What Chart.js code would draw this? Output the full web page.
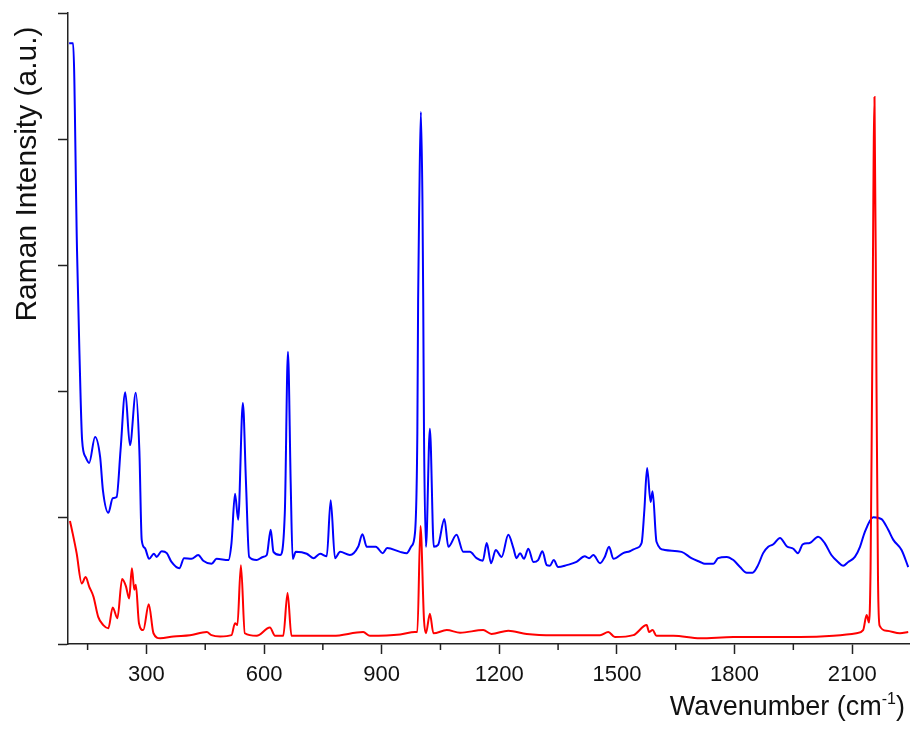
<!DOCTYPE html>
<html>
<head>
<meta charset="utf-8">
<script src="https://cdn.jsdelivr.net/npm/chart.js@4.4.0/dist/chart.umd.min.js"></script>
<style>
  html, body { margin: 0; padding: 0; background: #fff; }
</style>
</head>
<body>
<canvas id="ramanChart" width="910" height="729"></canvas>
<script>
/* global Chart */

// blue spectrum (upper trace)
const blueWavenumbers = [103, 113, 123, 129, 136, 145, 154, 169, 182, 189, 203, 214, 224, 234, 246, 258, 273, 282, 288, 296,
  307, 319, 326, 339, 352, 364, 384, 396, 415, 432, 445, 466, 479, 509, 517, 526, 534, 546, 554, 562,
  581, 597, 607, 617, 624, 641, 653, 661, 668, 673, 681, 709, 726, 743, 760, 770, 781, 794, 819, 840,
  851, 862, 885, 903, 914, 947, 964, 976, 985, 991, 993, 996, 1000, 1004, 1006, 1008, 1013, 1023, 1033, 1044,
  1060, 1070, 1091, 1108, 1125, 1142, 1158, 1168, 1179, 1191, 1206, 1223, 1236, 1244, 1253, 1263, 1274, 1287, 1299, 1310,
  1321, 1329, 1339, 1350, 1372, 1397, 1418, 1429, 1440, 1457, 1469, 1480, 1491, 1516, 1533, 1550, 1563, 1570, 1577, 1586,
  1591, 1601, 1622, 1665, 1690, 1712, 1724, 1746, 1758, 1780, 1797, 1814, 1831, 1846, 1860, 1873, 1886, 1899, 1916, 1933,
  1950, 1962, 1974, 1992, 2013, 2030, 2047, 2064, 2077, 2090, 2107, 2120, 2132, 2154, 2175, 2192, 2205, 2226, 2243];
const blueIntensity = [952, 952, 624, 466, 323, 296, 287, 328, 296, 244, 208, 231, 233, 307, 399, 315, 398, 307, 165, 152,
  135, 143, 138, 147, 144, 130, 120, 136, 135, 141, 132, 127, 135, 133, 160, 238, 197, 382, 255, 138,
  133, 138, 141, 181, 146, 141, 208, 463, 255, 135, 146, 143, 136, 143, 139, 228, 136, 146, 141, 154,
  174, 154, 154, 144, 152, 146, 144, 155, 176, 334, 545, 704, 843, 704, 545, 334, 154, 341, 154, 157,
  198, 154, 173, 146, 146, 136, 132, 160, 128, 149, 138, 173, 152, 136, 144, 135, 151, 130, 133, 147,
  125, 124, 133, 122, 125, 130, 139, 136, 141, 128, 138, 154, 135, 144, 147, 152, 160, 212, 279, 225,
  242, 162, 149, 146, 136, 130, 127, 127, 136, 138, 133, 122, 113, 113, 125, 144, 154, 158, 168, 155,
  151, 144, 158, 160, 170, 160, 141, 130, 124, 130, 138, 154, 177, 201, 198, 181, 165, 149, 122];

// red spectrum (lower trace)
const redWavenumbers = [105, 111, 122, 135, 145, 154, 165, 177, 190, 203, 214, 226, 238, 248, 256, 263, 269, 273, 281, 292,
  306, 318, 335, 369, 411, 454, 466, 488, 517, 526, 532, 541, 551, 581, 615, 628, 649, 660, 670, 709,
  751, 776, 853, 870, 947, 985, 991, 999, 1008, 1013, 1023, 1032, 1066, 1100, 1159, 1180, 1223, 1270, 1338, 1457,
  1478, 1495, 1542, 1576, 1582, 1591, 1601, 1644, 1712, 1797, 1882, 1967, 2052, 2111, 2128, 2137, 2143, 2147, 2151, 2157,
  2162, 2166, 2170, 2188, 2222, 2243];
const redIntensity = [195, 178, 144, 96, 106, 91, 75, 43, 30, 25, 58, 41, 103, 91, 72, 120, 86, 94, 33, 22,
  63, 17, 9, 12, 14, 19, 14, 12, 14, 33, 30, 125, 17, 13, 26, 13, 13, 81, 13, 13,
  13, 13, 19, 13, 15, 19, 19, 187, 38, 17, 48, 17, 22, 18, 22, 16, 21, 16, 14, 14,
  19, 11, 14, 30, 19, 22, 13, 13, 9, 11, 11, 11, 13, 17, 22, 46, 34, 120, 420, 867,
  420, 100, 29, 21, 17, 19];

// axis ticks
const majorTicks = [300, 600, 900, 1200, 1500, 1800, 2100];
const minorTicks = [150, 450, 750, 1050, 1350, 1650, 1950];
const yTicks = [0, 200, 400, 600, 800, 1000];

const axisColor = '#222';
const fontFamily = '"Liberation Sans", Arial, sans-serif';

function toPoints(xs, ys) {
  return xs.map((x, i) => ({ x, y: ys[i] }));
}

// minor ticks and the two axis titles
const axisExtras = {
  id: 'axisExtras',
  afterDraw(chart) {
    const { ctx, chartArea } = chart;
    const xScale = chart.scales.x;
    ctx.save();
    ctx.strokeStyle = axisColor;
    ctx.lineWidth = 1.5;
    minorTicks.forEach((v) => {
      const px = xScale.getPixelForValue(v);
      ctx.beginPath();
      ctx.moveTo(px, chartArea.bottom);
      ctx.lineTo(px, chartArea.bottom + 6);
      ctx.stroke();
    });

    ctx.fillStyle = '#111';
    ctx.textBaseline = 'alphabetic';

    // x title with superscript
    const main = 'Wavenumber (cm';
    const sup = '-1';
    const tail = ')';
    ctx.font = `27px ${fontFamily}`;
    const wMain = ctx.measureText(main).width;
    const wTail = ctx.measureText(tail).width;
    ctx.font = `16px ${fontFamily}`;
    const wSup = ctx.measureText(sup).width;
    const right = chartArea.right - 4;
    const base = chartArea.bottom + 71;
    let x0 = right - wMain - wSup - wTail;
    ctx.textAlign = 'left';
    ctx.font = `27px ${fontFamily}`;
    ctx.fillText(main, x0, base);
    x0 += wMain;
    ctx.font = `16px ${fontFamily}`;
    ctx.fillText(sup, x0, base - 11);
    x0 += wSup;
    ctx.font = `27px ${fontFamily}`;
    ctx.fillText(tail, x0, base);

    // y title
    ctx.translate(chartArea.left - 32, chartArea.top + 161);
    ctx.rotate(-Math.PI / 2);
    ctx.textAlign = 'center';
    ctx.font = `30px ${fontFamily}`;
    ctx.fillText('Raman Intensity (a.u.)', 0, 0);
    ctx.restore();
  },
};

const ctx = document.getElementById('ramanChart');
const ramanChart = new Chart(ctx, {
  type: 'line',
  data: {
    datasets: [
      {
        label: 'blue',
        data: toPoints(blueWavenumbers, blueIntensity),
        borderColor: '#0000ff',
        borderWidth: 2,
        pointRadius: 0,
        cubicInterpolationMode: 'monotone',
        fill: false,
        order: 1,
      },
      {
        label: 'red',
        data: toPoints(redWavenumbers, redIntensity),
        borderColor: '#ff0000',
        borderWidth: 2,
        pointRadius: 0,
        cubicInterpolationMode: 'monotone',
        fill: false,
        order: 0,
      },
    ],
  },
  options: {
    responsive: false,
    animation: false,
    layout: {
      padding: { top: 13, right: 1, left: 0, bottom: 0 },
    },
    plugins: {
      legend: { display: false },
      tooltip: { enabled: false },
    },
    scales: {
      x: {
        type: 'linear',
        min: 100,
        max: 2245,
        afterBuildTicks: (scale) => {
          scale.ticks = majorTicks.map((v) => ({ value: v }));
        },
        afterFit: (scale) => {
          scale.height = 85;
        },
        grid: {
          drawOnChartArea: false,
          drawTicks: true,
          tickLength: 10,
          tickWidth: 1.5,
          tickColor: axisColor,
        },
        border: { color: axisColor, width: 1.5 },
        ticks: {
          color: '#111',
          font: { family: fontFamily, size: 22 },
          padding: 8,
          maxRotation: 0,
          autoSkip: false,
          callback: (value) => String(value),
        },
      },
      y: {
        type: 'linear',
        min: 0,
        max: 1000,
        afterBuildTicks: (scale) => {
          scale.ticks = yTicks.map((v) => ({ value: v }));
        },
        afterFit: (scale) => {
          scale.width = 68;
        },
        grid: {
          drawOnChartArea: false,
          drawTicks: true,
          tickLength: 10,
          tickWidth: 1.5,
          tickColor: axisColor,
        },
        border: { color: axisColor, width: 1.5 },
        ticks: { display: false },
      },
    },
  },
  plugins: [axisExtras],
});
</script>
</body>
</html>
